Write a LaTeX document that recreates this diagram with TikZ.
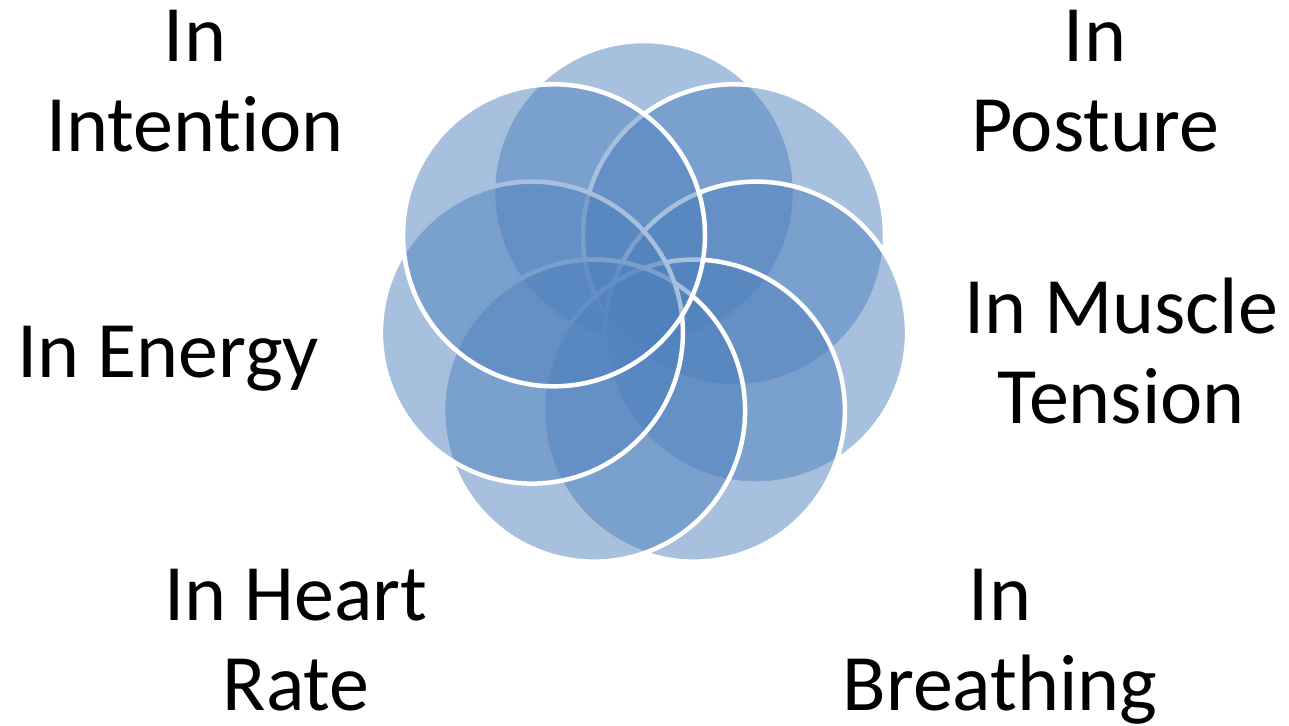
\documentclass[tikz,border=0pt]{standalone}
\usepackage{fontspec}
\setmainfont{Carlito}[Ligatures={NoCommon}]
\definecolor{petalblue}{RGB}{79,129,189}
\begin{document}
\begin{tikzpicture}[x=1pt,y=-1pt,
  petal/.style={circle, minimum size=302pt, inner sep=0pt, fill=petalblue, fill opacity=0.5, draw=white, draw opacity=1, line width=4.5pt},
  lbl/.style={font=\fontsize{80}{90}\selectfont, align=center, anchor=base, inner sep=0pt, text=black}]
\useasboundingbox (0,0) rectangle (1289,725);
% circles, drawn clockwise from the top; the upper-left one last
\node[petal] (top)     at (644,192) {};
\node[petal] (posture) at (734,235.3) {};
\node[petal] (muscle)  at (756.1,332.6) {};
\node[petal] (breath)  at (693.9,410.6) {};
\node[petal] (heart)   at (594.1,410.6) {};
\node[petal] (energy)  at (531.9,332.6) {};
\node[petal] (intent)  at (554,235.3) {};
% labels (anchor on the baseline of the last line)
\node[lbl] (lintent)  at (195,151)  {In\\Intention};
\node[lbl] (lposture) at (1095,151) {In\\Posture};
\node[lbl] (lenergy)  at (168,377)  {In Energy};
\node[lbl] (lmuscle)  at (1121,423) {In Muscle\\Tension};
\node[lbl] (lheart)   at (296,710)  {In Heart\\Rate};
\node[lbl] (lbreath)  at (1000,710) {In\\Breathing};
\end{tikzpicture}
\end{document}
